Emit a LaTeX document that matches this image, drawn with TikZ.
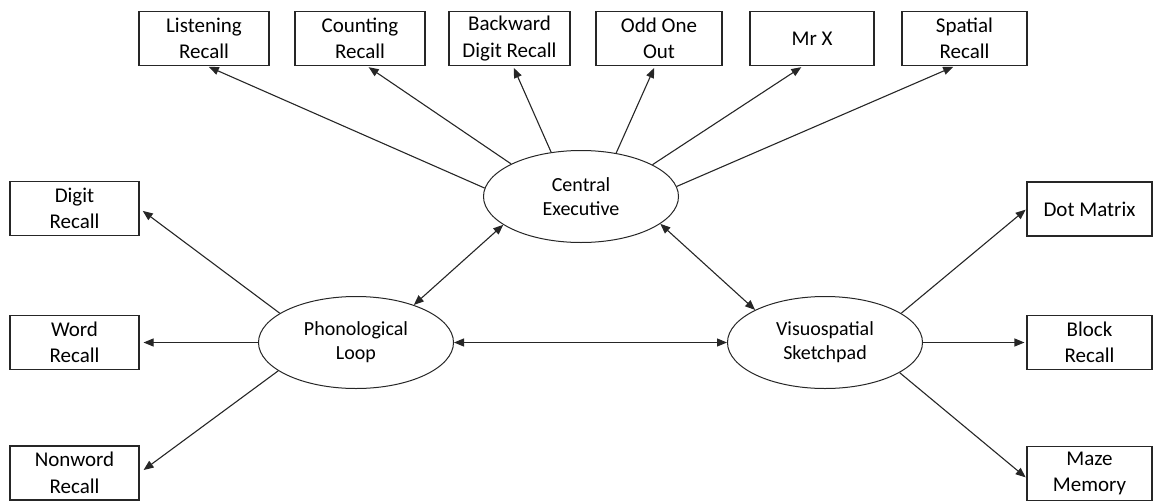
\documentclass[tikz,border=0pt]{standalone}
\usepackage{fontspec}
\setmainfont{Carlito}
\usetikzlibrary{arrows.meta,shapes.geometric}

\begin{document}
\begin{tikzpicture}[x=1pt,y=-1pt,
  task/.style={draw=black!85, line width=1.1pt, rectangle, minimum height=54pt,
    inner sep=0pt, align=center, font=\fontsize{21}{26.5}\selectfont},
  comp/.style={draw=black!85, line width=1pt, ellipse, minimum width=195pt,
    minimum height=92pt, inner sep=0pt, align=center, font=\fontsize{20}{24}\selectfont},
  tip/.style={Triangle[length=10pt,width=8pt]},
  link/.style={line width=1.1pt, draw=black!85, -{Triangle[length=10pt,width=8pt]}, shorten >=2pt},
  both/.style={line width=1.1pt, draw=black!85, {Triangle[length=10pt,width=8pt]}-{Triangle[length=10pt,width=8pt]}}
]
\useasboundingbox (0,0) rectangle (1153,501);

% working-memory components
\node[comp] (ce) at (581,196.5) {Central\\Executive};
\node[comp] (pl) at (356,342.5) {Phonological\\Loop};
\node[comp] (vs) at (825,342.5) {Visuospatial\\Sketchpad};

% central executive tasks
\node[task, minimum width=130pt] (lr) at (204,38.5) {Listening\\Recall};
\node[task, minimum width=130pt] (cr) at (360,38.5) {Counting\\Recall};
\node[task, minimum width=121pt] (bd) at (509.5,38.5) {Backward\\Digit Recall};
\node[task, minimum width=126pt] (oo) at (659,38.5) {Odd One\\Out};
\node[task, minimum width=124pt] (mx) at (812,38.5) {Mr X};
\node[task, minimum width=125pt] (sr) at (964.5,38.5) {Spatial\\Recall};

% phonological loop tasks
\node[task, minimum width=129pt] (dr) at (74.5,208.5) {Digit\\Recall};
\node[task, minimum width=129pt] (wr) at (74.5,342.5) {Word\\Recall};
\node[task, minimum width=129pt] (nr) at (74.5,473) {Nonword\\Recall};

% visuospatial sketchpad tasks
\node[task, minimum width=125pt] (dm) at (1089.5,209) {Dot Matrix};
\node[task, minimum width=125pt] (br) at (1089.5,342.5) {Block\\Recall};
\node[task, minimum width=125pt] (mm) at (1089.5,473.5) {Maze\\Memory};

% links from the central executive
\draw[link] (ce.175) -- ([xshift=3pt]lr.south);
\draw[link] (ce.155) -- ([xshift=7pt]cr.south);
\draw[link] (ce.124) -- ([xshift=3.5pt]bd.south);
\draw[link] (ce.51)  -- ([xshift=-4pt]oo.south);
\draw[link] (ce.24)  -- ([xshift=-9pt]mx.south);
\draw[link] (ce.6.5) -- ([xshift=-9.5pt]sr.south);

% links from the phonological loop
\draw[link, shorten >=4pt] (pl.159.3) -- (dr.east);
\draw[link, shorten >=4pt] (pl.180) -- (wr.east);
\draw[link, shorten >=5pt] (pl.200.5) -- (nr.east);

% links from the visuospatial sketchpad
\draw[link, shorten >=1pt] (vs.21.4) -- (dm.west);
\draw[link] (vs.0) -- (br.west);
\draw[link, shorten >=1pt] (vs.338.6) -- ([yshift=-4.5pt]mm.west);

% links between the components
\draw[both] (ce.200.3) -- (pl.33.8);
\draw[both] (ce.341.1) -- (vs.155.1);
\draw[both] (pl.0) -- (vs.180);
\end{tikzpicture}
\end{document}
